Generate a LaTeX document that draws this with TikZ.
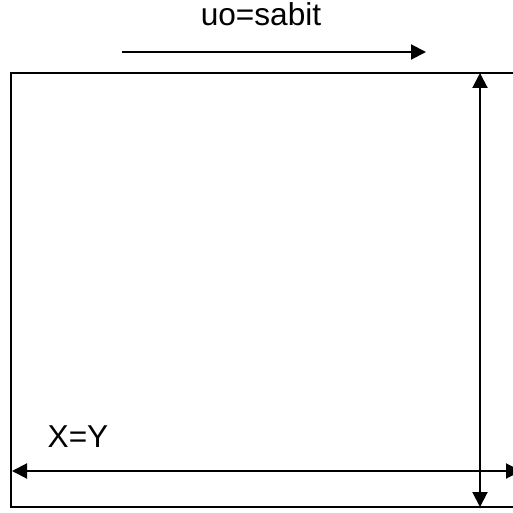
\documentclass[tikz,border=0pt]{standalone}
\usepackage{fontspec}
\setmainfont{Liberation Sans}
\usetikzlibrary{arrows.meta, positioning}

\begin{document}
\begin{tikzpicture}[
    x=0.03cm, y=-0.03cm,
    frame/.style={draw=black, line width=1.7pt},
    arrow/.style={-{Triangle[length=0.45cm, width=0.45cm]}, line width=1.7pt},
    darrow/.style={{Triangle[length=0.45cm, width=0.45cm]}-{Triangle[length=0.45cm, width=0.45cm]}, line width=1.7pt},
    note/.style={font=\fontsize{27}{32}\selectfont, anchor=base, inner sep=0pt}
]
    \useasboundingbox (0,0) rectangle (513,513);
    \clip (0,0) rectangle (513,513);

    % plate
    \draw[frame] (11,73) rectangle (540,507);

    % end points of the arrows
    \coordinate (flowstart) at (122,52);
    \coordinate (flowend)   at (426,52);
    \coordinate (vtop)      at (480,73);
    \coordinate (vbottom)   at (480,507);
    \coordinate (hleft)     at (12,471);
    \coordinate (hright)    at (521,471);

    \node[note] (speed) at (261,26) {uo=sabit};
    \node[note] (ratio) at (78,447) {X=Y};

    \draw[arrow]  (flowstart) -- (flowend);
    \draw[darrow] (vtop) -- (vbottom);
    \draw[darrow] (hleft) -- (hright);
\end{tikzpicture}
\end{document}
